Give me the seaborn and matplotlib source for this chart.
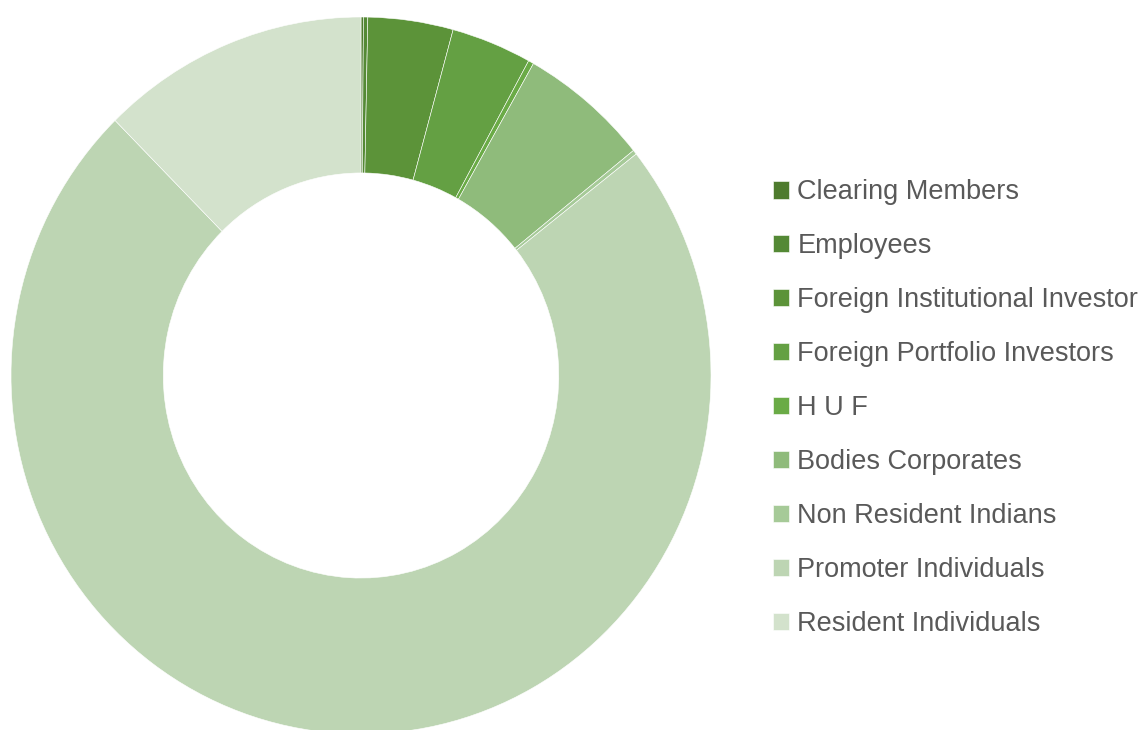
import numpy as np
import seaborn as sns
import matplotlib.pyplot as plt

# shareholding categories, clockwise from 12 o'clock
categories = ["Clearing Members", "Employees", "Foreign Institutional Investor",
              "Foreign Portfolio Investors", "H U F", "Bodies Corporates",
              "Non Resident Indians", "Promoter Individuals", "Resident Individuals"]
shares = [0.11, 0.20, 3.93, 3.71, 0.25, 6.00, 0.20, 73.20, 12.40]
colors = ["#4e7b2d", "#548935", "#5c9339", "#64a043", "#6aab46",
          "#8fbb7b", "#a6ca98", "#bdd5b3", "#d3e2cc"]

sns.set_theme(style="white")
plt.rcParams['font.family'] = ['Liberation Sans Narrow', 'Liberation Sans', 'DejaVu Sans']

W, H = 1141, 730
fig = plt.figure(figsize=(W / 100, H / 100), dpi=100)
# donut spans x 11..711 px and y 17..734 px (slightly taller than wide)
ax = fig.add_axes([11 / W, -4 / H, 700 / W, 717 / H])

wedges, _ = ax.pie(shares, colors=colors, startangle=90, counterclock=False,
                   radius=1.0, wedgeprops=dict(width=0.435, edgecolor="white", linewidth=0.4))
ax.set_xlim(-1, 1)
ax.set_ylim(-1, 1)
ax.set_aspect("auto")
ax.axis("off")

leg = fig.legend(wedges, categories, loc="center left", bbox_to_anchor=(773 / W, 0.441),
                 frameon=False, fontsize=19.5, handlelength=0.6, handleheight=0.6,
                 handletextpad=0.3, labelspacing=1.03, borderpad=0, borderaxespad=0)
for t in leg.get_texts():
    t.set_color("#595959")

fig.savefig("out.png", dpi=100)
